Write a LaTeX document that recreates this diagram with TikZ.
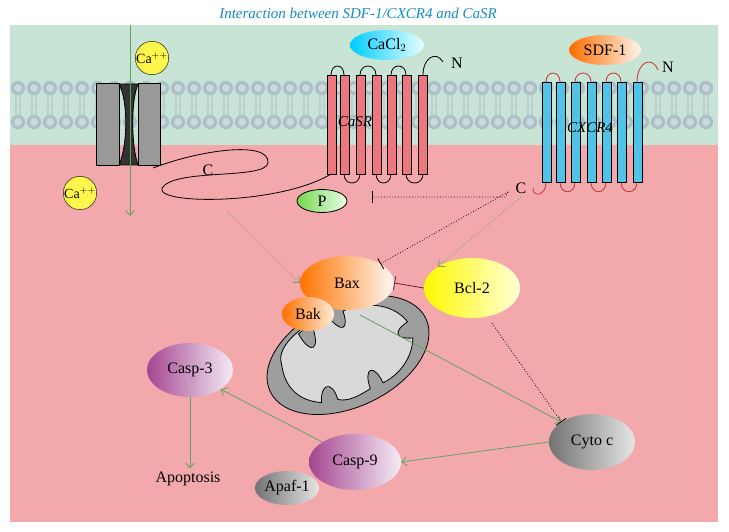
\documentclass[tikz,border=0pt]{standalone}
\usepackage{fontspec}
\setmainfont{Liberation Serif}
\usetikzlibrary{shapes.geometric,arrows.meta}
\definecolor{bgG}{RGB}{200,228,212}
\definecolor{bgP}{RGB}{243,168,172}
\definecolor{memb}{RGB}{172,192,200}
\definecolor{arrG}{RGB}{95,165,95}
\definecolor{titleB}{RGB}{20,140,200}
\definecolor{helR}{RGB}{236,120,125}
\definecolor{helB}{RGB}{80,195,230}
\definecolor{loopR}{RGB}{200,50,50}
\definecolor{inhR}{RGB}{120,30,40}
\definecolor{purp}{RGB}{165,70,145}
\definecolor{purpL}{RGB}{245,235,245}
\begin{document}
\begin{tikzpicture}[x=1pt,y=-1pt,
 blob/.style={ellipse,draw=none,font=\fontsize{16}{16}\selectfont,inner sep=0pt},
 garrow/.style={arrG,thick,-{Straight Barb[length=5pt,width=9pt]}},
 gdot/.style={arrG,thick,dotted,-{Straight Barb[length=5pt,width=9pt]}},
 kinh/.style={black,thick,dotted,-{Bar[width=12pt]}},
 helixR/.style={draw=black,fill=helR,thick},
 helixB/.style={draw=black,fill=helB,thick},
 lbl/.style={font=\fontsize{16}{16}\selectfont}]
\useasboundingbox (0,0) rectangle (729,532);
\fill[white] (0,0) rectangle (729,532);
\fill[bgG] (10,25) rectangle (718,145);
\fill[bgP] (10,145) rectangle (718,522);
\node[titleB,font=\itshape\fontsize{15}{15}\selectfont] (title) at (358,13) {Interaction between SDF-1/CXCR4 and CaSR};
% membrane
\foreach \x in {18,34,...,714}{
 \draw[memb!80!white,line width=1.2pt] (\x-2,94)--(\x-2,116) (\x+2,94)--(\x+2,116);
 \draw[memb!80!white] (\x-5,105)--(\x+5,105);
 \fill[memb] (\x,88) circle (7.2);
 \fill[memb!60!white] (\x,88) circle (3.8);
 \fill[memb] (\x,122) circle (7.2);
 \fill[memb!60!white] (\x,122) circle (3.8);
}
% channel
\draw[thick,fill=black!80] (119,84) .. controls (128,100) and (128,145) .. (119,165) -- (138,165) .. controls (131,145) and (131,100) .. (138,84) -- cycle;
\draw[thick,fill=black!40] (96,83) rectangle (119,165);
\draw[thick,fill=black!40] (138,83) rectangle (160,165);
\coordinate (chTop) at (130,25);
\coordinate (chBot) at (130,216);
\draw[garrow] (chTop) -- (chBot);
\node[circle,draw=black,fill=yellow!70,inner sep=0pt,minimum size=33pt,font=\fontsize{14}{14}\selectfont] (ca1) at (152,58) {Ca$^{++}$};
\node[circle,draw=black,fill=yellow!70,inner sep=0pt,minimum size=33pt,font=\fontsize{14}{14}\selectfont] (ca2) at (80,193) {Ca$^{++}$};
% C tail
\draw[thick] (153,168) .. controls (200,150) and (270,140) .. (268,163) .. controls (265,180) and (175,168) .. (162,188) .. controls (155,205) and (280,205) .. (331,174);
\node[lbl] (cLab) at (208,170) {C};
% CaSR
\foreach \a/\b in {331/344,360/376,391/406}{
 \draw[thick] (\a,75) .. controls (\a,63) and (\b,63) .. (\b,75);}
\foreach \a/\b in {344/360,376/391,406/423}{
 \draw[thick] (\a,174) .. controls (\a,186) and (\b,186) .. (\b,174);}
\draw[thick] (423,75) .. controls (423,58) and (436,50) .. (443,62);
\foreach \x in {327,340,356,372,387,402,418}{
 \draw[helixR] (\x,75) rectangle (\x+9,174);}
\node[lbl] (nCa) at (457,63) {N};
\node[lbl,font=\itshape\fontsize{15}{15}\selectfont] (casr) at (355,122) {CaSR};
\node[blob,minimum width=74pt,minimum height=30pt,left color=cyan!80!blue,right color=cyan!10,lbl] (cacl) at (387,45) {CaCl$_2$};
\node[blob,minimum width=50pt,minimum height=23pt,draw=black,thick,left color=green!55!olive!70,right color=green!8,lbl] (P) at (322,201) {P};
% CXCR4
\foreach \a/\b in {546/560,575/591,606/621}{
 \draw[loopR,thick] (\a,82) .. controls (\a,70) and (\b,70) .. (\b,82);}
\foreach \a/\b in {560/575,591/606,621/637}{
 \draw[loopR,thick] (\a,182) .. controls (\a,195) and (\b,195) .. (\b,182);}
\draw[loopR,thick] (637,82) .. controls (637,62) and (652,55) .. (658,70);
\draw[loopR,thick] (546,182) .. controls (546,197) and (532,197) .. (533,188);
\foreach \x in {542,556,571,587,602,617,633}{
 \draw[helixB] (\x,82) rectangle (\x+9,182);}
\node[blob,minimum width=72pt,minimum height=30pt,left color=orange!85!red,right color=orange!8,lbl] (sdf) at (605,50) {SDF-1};
\node[lbl] (nCx) at (668,67) {N};
\node[lbl,font=\itshape\fontsize{15}{15}\selectfont] (cxcr) at (590,128) {CXCR4};
\node[lbl] (cCx) at (521,188) {C};
% mitochondrion
\begin{scope}[shift={(348,355)},rotate=25]
 \draw[thick,fill=black!38] (0,0) ellipse (86 and 52);
 \draw[thick,fill=black!15] (-64,-20) .. controls (-62,-40) and (-22,-48) .. (-2,-44)
   .. controls (3,-22) and (12,-22) .. (14,-42) .. controls (35,-42) and (62,-30) .. (68,-5)
   .. controls (50,-2) and (50,6) .. (66,12) .. controls (56,32) and (35,40) .. (20,40)
   .. controls (20,18) and (8,18) .. (6,40) .. controls (-10,42) and (-20,42) .. (-28,36)
   .. controls (-25,15) and (-38,15) .. (-44,32) .. controls (-62,22) and (-72,5) .. (-64,-20);
 \draw[thick,fill=black!38] (-36,-40) .. controls (-34,-15) and (-22,-15) .. (-20,-44) -- cycle;
\end{scope}
% apoptosis nodes
\node[blob,minimum width=94pt,minimum height=54pt,left color=orange!90!red,right color=orange!5,lbl] (bax) at (347,283) {Bax};
\node[blob,minimum width=52pt,minimum height=34pt,left color=orange!90!red,right color=orange!15,lbl] (bak) at (308,314) {Bak};
\node[blob,minimum width=96pt,minimum height=60pt,left color=yellow!95!orange,right color=yellow!15,lbl] (bcl) at (472,288) {Bcl-2};
\node[blob,minimum width=86pt,minimum height=54pt,left color=purp,right color=purpL,lbl] (casp3) at (190,370) {Casp-3};
\node[blob,minimum width=92pt,minimum height=56pt,left color=purp,right color=purpL,lbl] (casp9) at (355,462) {Casp-9};
\node[blob,minimum width=50pt,minimum height=34pt,left color=black!55,right color=black!10,lbl] (apaf) at (287,488) {Apaf-1};
\node[blob,minimum width=86pt,minimum height=56pt,left color=black!55,right color=black!10,lbl] (cyto) at (592,442) {Cyto c};
\node[lbl] (apo) at (188,479) {Apoptosis};
% connectors
\coordinate (baxP) at (360,315);
\draw[garrow] (baxP) -- (cyto.north west);
\draw[garrow] (cyto.west) -- (casp9.east);
\draw[garrow] (casp9.north west) -- (casp3.south east);
\draw[garrow] (casp3.south) -- (casp3.south |- apo.north);
\draw[inhR,thick,-{Bar[width=14pt]}] (bcl.west) -- (bax.east);
\draw[kinh] (bcl.south) ++(20,5) -- (cyto.north west);
\coordinate (cJ) at (508,192);
\coordinate (casrBar) at (372,197);
\draw[kinh] (cJ) -- (505,197) -- (casrBar);
\draw[kinh] (cJ) -- (bax.north east);
\draw[gdot] (cCx.south) -- (bcl.north west);
\coordinate (loopPt) at (228,212);
\draw[gdot] (loopPt) -- (bax.west);
\end{tikzpicture}
\end{document}
